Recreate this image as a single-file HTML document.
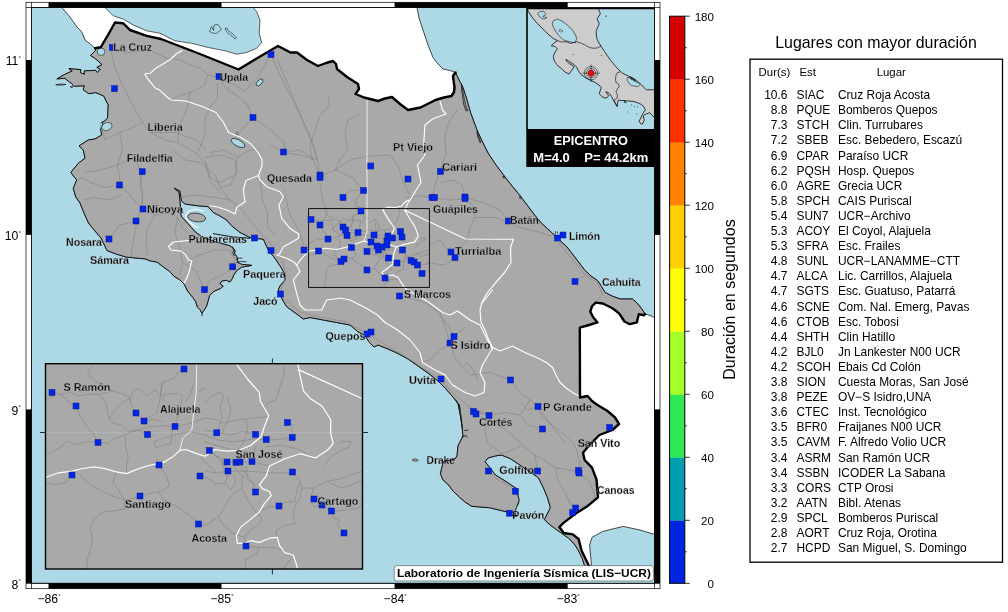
<!DOCTYPE html>
<html lang="es"><head><meta charset="utf-8"><title>Mapa de duración</title>
<style>html,body{margin:0;padding:0;background:#fff}body{width:1008px;height:612px;overflow:hidden}svg{display:block}text{font-family:"Liberation Sans",sans-serif;fill:#000}.b{font-weight:bold}.lab text{font-weight:bold;font-size:11px;stroke:#b3b3b3;stroke-width:0.28px;stroke-linejoin:round}.ax text{font-size:12.2px}.tb text{font-size:11.95px}.hd text{font-size:11.4px}</style></head><body>
<svg width="1008" height="612" viewBox="0 0 1008 612">
<rect width="1008" height="612" fill="#fff"/>
<defs><clipPath id="cm"><rect x="31.5" y="7.5" width="623.0" height="575.8"/></clipPath>
<clipPath id="ci"><rect x="45.5" y="363.7" width="317" height="205.3"/></clipPath>
<clipPath id="ce"><rect x="527" y="7.5" width="127.5" height="122"/></clipPath></defs>
<g clip-path="url(#cm)">
<rect x="31.5" y="7.5" width="623.0" height="575.8" fill="#add8e6"/>
<path d="M61.7 7.5 L69.0 15.8 L73.3 21.7 L77.0 27.0 L81.7 31.7 L85.0 40.0 L91.0 44.5 L95.0 48.3 L95.7 50.3 L90.6 55.4 L95.7 58.9 L102.0 64.6 L96.9 67.4 L100.3 69.2 L97.5 72.6 L95.7 70.3 L84.3 70.9 L84.3 74.3 L80.3 72.6 L80.9 69.7 L68.9 68.6 L72.3 70.9 L64.9 74.3 L56.9 78.9 L64.9 78.3 L68.3 81.2 L71.7 83.5 L74.0 86.3 L84.3 85.7 L83.2 89.7 L88.9 93.7 L95.7 92.6 L103.7 96.0 L106.7 102.0 L108.3 105.0 L107.5 118.3 L104.5 121.0 L101.7 122.5 L103.5 124.0 L101.5 127.0 L100.8 129.5 L101.7 135.0 L95.0 139.0 L88.3 140.0 L79.0 145.8 L83.3 150.0 L85.0 158.3 L78.3 163.3 L70.8 172.5 L76.7 180.0 L73.3 188.3 L75.8 197.0 L80.0 203.0 L84.0 213.0 L88.5 223.0 L95.0 231.0 L101.0 238.0 L107.0 250.5 L116.0 254.0 L126.0 257.0 L136.0 258.0 L146.0 259.0 L150.0 260.9 L156.9 262.0 L163.7 267.2 L169.4 271.2 L174.0 276.3 L179.7 279.7 L184.3 284.3 L187.7 291.2 L192.3 296.9 L195.7 301.5 L197.5 307.2 L200.3 310.0 L202.0 313.5 L203.0 311.5 L204.3 310.0 L206.6 306.0 L208.3 300.3 L209.5 295.7 L214.0 291.2 L220.9 288.3 L223.2 286.0 L219.8 283.7 L222.0 280.9 L226.6 280.3 L230.0 282.0 L232.3 278.6 L234.0 274.6 L236.3 271.2 L241.5 267.2 L251.8 265.4 L241.5 264.3 L238.0 262.6 L236.9 256.9 L234.6 253.4 L235.0 250.0 L230.0 245.8 L215.0 241.7 L201.7 236.7 L195.0 231.7 L188.3 224.0 L181.0 216.0 L180.0 201.7 L179.0 192.5 L174.0 188.0 L180.0 191.0 L181.5 201.0 L185.0 204.0 L198.3 205.8 L208.3 206.7 L213.3 212.5 L220.0 216.0 L226.7 220.0 L231.7 225.8 L240.0 232.5 L246.0 235.5 L250.0 237.5 L257.0 238.5 L263.3 239.2 L266.0 245.0 L268.3 250.0 L275.0 258.3 L281.7 268.3 L285.0 275.0 L285.0 280.0 L280.0 286.0 L278.3 290.0 L281.7 298.3 L286.7 306.7 L296.7 314.0 L303.3 319.0 L310.0 317.5 L323.3 320.0 L336.7 322.5 L350.0 325.0 L358.0 331.7 L365.5 336.0 L369.0 342.0 L374.0 347.0 L378.0 345.0 L388.0 349.0 L398.0 353.5 L408.0 359.0 L418.0 366.0 L428.0 373.0 L438.0 381.0 L446.0 389.0 L453.0 397.0 L458.0 403.5 L460.5 416.0 L462.0 426.0 L463.0 436.0 L458.0 446.0 L457.0 456.0 L455.0 459.0 L443.4 461.6 L440.4 473.5 L443.0 480.0 L447.8 484.0 L453.0 491.0 L459.7 497.3 L465.0 502.0 L471.6 506.2 L480.0 507.0 L489.5 507.7 L499.0 510.0 L507.3 512.0 L513.0 516.0 L516.2 516.6 L514.7 512.2 L519.2 500.3 L516.2 488.4 L507.3 482.4 L495.4 475.0 L485.0 461.6 L488.0 458.0 L495.0 456.0 L501.3 455.0 L510.3 458.6 L519.2 464.6 L532.6 473.5 L538.5 478.0 L543.0 486.9 L547.4 497.3 L550.4 507.7 L544.4 519.6 L549.0 524.0 L554.9 528.5 L562.0 533.5 L569.7 539.0 L575.0 545.0 L578.6 550.8 L582.0 558.0 L584.6 565.7 L588.0 574.0 L592.0 574.0 L591.0 560.0 L589.6 545.0 L592.0 537.4 L602.4 531.5 L623.2 526.4 L640.0 530.0 L654.5 534.4 L654.5 534.4 L654.5 317.5 L650.0 315.5 L645.0 314.0 L642.5 310.0 L638.0 304.0 L632.5 299.0 L620.0 299.0 L612.0 296.0 L605.0 292.5 L600.0 284.0 L597.5 280.5 L591.0 276.0 L585.0 270.5 L577.0 260.0 L572.0 253.5 L567.0 247.0 L562.0 242.5 L556.0 236.8 L549.0 230.0 L541.8 223.6 L535.0 215.5 L527.0 205.0 L520.0 195.5 L512.0 186.0 L505.0 177.0 L496.0 165.0 L488.0 153.0 L483.0 143.0 L478.0 132.5 L474.0 122.0 L470.5 112.5 L467.0 100.0 L463.0 87.5 L459.0 80.0 L455.5 72.5 L450.0 70.5 L443.0 69.0 L438.0 64.0 L433.0 57.5 L428.0 45.0 L423.0 30.0 L419.0 18.0 L417.0 7.5 L417.0 7.5 L61.7 7.5 Z" fill="#fff" stroke="#000" stroke-width="0.7" stroke-linejoin="round"/>
<path d="M105.0 7.5 L113.3 15.8 L123.3 19.2 L133.3 25.0 L146.7 30.8 L160.0 33.3 L175.0 40.8 L191.7 43.3 L208.3 47.5 L225.0 50.8 L236.7 54.2 L246.7 52.5 L256.7 48.3 L261.7 42.5 L259.2 33.3 L260.0 20.0 L256.7 11.7 L253.3 7.5 Z" fill="#add8e6" stroke="#000" stroke-width="0.6" stroke-linejoin="round"/>
<path d="M209.5 31.5 l2 -5 l2 4 l0.5 -5.5 l4 -0.5 l3.5 5 l-5.5 4 l-3.5 -0.5z M225 28.5 l2 -0.5 l1.5 3 l4 2.5 l4 4.5 l-1.5 1 l-4.5 -4 l-3.5 -2.5z" fill="#add8e6" stroke="#000" stroke-width="0.5"/>
<path d="M95.0 48.3 L95.7 50.3 L90.6 55.4 L95.7 58.9 L102.0 64.6 L96.9 67.4 L100.3 69.2 L97.5 72.6 L95.7 70.3 L84.3 70.9 L84.3 74.3 L80.3 72.6 L80.9 69.7 L68.9 68.6 L72.3 70.9 L64.9 74.3 L56.9 78.9 L64.9 78.3 L68.3 81.2 L71.7 83.5 L74.0 86.3 L84.3 85.7 L83.2 89.7 L88.9 93.7 L95.7 92.6 L103.7 96.0 L106.7 102.0 L108.3 105.0 L107.5 118.3 L104.5 121.0 L101.7 122.5 L103.5 124.0 L101.5 127.0 L100.8 129.5 L101.7 135.0 L95.0 139.0 L88.3 140.0 L79.0 145.8 L83.3 150.0 L85.0 158.3 L78.3 163.3 L70.8 172.5 L76.7 180.0 L73.3 188.3 L75.8 197.0 L80.0 203.0 L84.0 213.0 L88.5 223.0 L95.0 231.0 L101.0 238.0 L107.0 250.5 L116.0 254.0 L126.0 257.0 L136.0 258.0 L146.0 259.0 L150.0 260.9 L156.9 262.0 L163.7 267.2 L169.4 271.2 L174.0 276.3 L179.7 279.7 L184.3 284.3 L187.7 291.2 L192.3 296.9 L195.7 301.5 L197.5 307.2 L200.3 310.0 L202.0 313.5 L203.0 311.5 L204.3 310.0 L206.6 306.0 L208.3 300.3 L209.5 295.7 L214.0 291.2 L220.9 288.3 L223.2 286.0 L219.8 283.7 L222.0 280.9 L226.6 280.3 L230.0 282.0 L232.3 278.6 L234.0 274.6 L236.3 271.2 L241.5 267.2 L251.8 265.4 L241.5 264.3 L238.0 262.6 L236.9 256.9 L234.6 253.4 L235.0 250.0 L230.0 245.8 L215.0 241.7 L201.7 236.7 L195.0 231.7 L188.3 224.0 L181.0 216.0 L180.0 201.7 L179.0 192.5 L174.0 188.0 L180.0 191.0 L181.5 201.0 L185.0 204.0 L198.3 205.8 L208.3 206.7 L213.3 212.5 L220.0 216.0 L226.7 220.0 L231.7 225.8 L240.0 232.5 L246.0 235.5 L250.0 237.5 L257.0 238.5 L263.3 239.2 L266.0 245.0 L268.3 250.0 L275.0 258.3 L281.7 268.3 L285.0 275.0 L285.0 280.0 L280.0 286.0 L278.3 290.0 L281.7 298.3 L286.7 306.7 L296.7 314.0 L303.3 319.0 L310.0 317.5 L323.3 320.0 L336.7 322.5 L350.0 325.0 L358.0 331.7 L365.5 336.0 L369.0 342.0 L374.0 347.0 L378.0 345.0 L388.0 349.0 L398.0 353.5 L408.0 359.0 L418.0 366.0 L428.0 373.0 L438.0 381.0 L446.0 389.0 L453.0 397.0 L458.0 403.5 L460.5 416.0 L462.0 426.0 L463.0 436.0 L458.0 446.0 L457.0 456.0 L455.0 459.0 L443.4 461.6 L440.4 473.5 L443.0 480.0 L447.8 484.0 L453.0 491.0 L459.7 497.3 L465.0 502.0 L471.6 506.2 L480.0 507.0 L489.5 507.7 L499.0 510.0 L507.3 512.0 L513.0 516.0 L516.2 516.6 L514.7 512.2 L519.2 500.3 L516.2 488.4 L507.3 482.4 L495.4 475.0 L485.0 461.6 L488.0 458.0 L495.0 456.0 L501.3 455.0 L510.3 458.6 L519.2 464.6 L532.6 473.5 L538.5 478.0 L543.0 486.9 L547.4 497.3 L550.4 507.7 L544.4 519.6 L549.0 524.0 L554.9 528.5 L562.0 533.5 L569.7 539.0 L575.0 545.0 L578.6 550.8 L582.0 558.0 L584.6 565.7 L588.0 574.0 L592.0 574.0 L589.0 566.0 L586.0 559.7 L581.6 550.8 L578.6 539.0 L572.7 534.4 L563.8 533.0 L559.3 527.0 L563.8 522.6 L575.7 513.6 L587.5 506.2 L598.0 497.3 L596.5 479.5 L592.0 467.6 L584.6 460.0 L583.0 452.7 L590.5 443.8 L599.4 435.0 L612.5 430.0 L619.0 424.0 L615.0 417.5 L607.5 411.0 L597.5 405.0 L592.0 401.0 L587.5 396.0 L580.0 397.5 L579.8 327.6 L589.0 325.0 L597.5 322.4 L593.0 317.0 L590.3 311.6 L592.1 306.2 L595.7 302.6 L602.9 303.5 L611.9 308.0 L615.5 310.5 L619.0 313.4 L621.5 317.0 L624.4 321.5 L629.8 324.2 L637.0 322.4 L637.6 319.0 L638.8 314.3 L644.2 315.2 L645.0 314.0 L642.5 310.0 L638.0 304.0 L632.5 299.0 L620.0 299.0 L612.0 296.0 L605.0 292.5 L600.0 284.0 L597.5 280.5 L591.0 276.0 L585.0 270.5 L577.0 260.0 L572.0 253.5 L567.0 247.0 L562.0 242.5 L556.0 236.8 L549.0 230.0 L541.8 223.6 L535.0 215.5 L527.0 205.0 L520.0 195.5 L512.0 186.0 L505.0 177.0 L496.0 165.0 L488.0 153.0 L483.0 143.0 L478.0 132.5 L474.0 122.0 L470.5 112.5 L467.0 100.0 L463.0 87.5 L459.0 80.0 L455.5 72.5 L453.0 76.0 L453.5 80.0 L454.5 87.5 L454.0 92.0 L451.5 96.0 L444.0 97.5 L435.5 100.0 L420.5 107.5 L408.0 110.0 L400.0 104.0 L392.0 97.0 L385.0 98.5 L378.0 101.0 L364.0 97.5 L355.5 94.0 L359.0 89.0 L358.0 84.0 L347.0 77.0 L337.0 69.0 L336.0 64.0 L333.0 61.0 L326.0 63.0 L318.0 66.0 L307.0 60.0 L297.0 52.5 L290.5 52.5 L278.0 46.0 L260.0 56.5 L238.5 69.5 L200.0 54.0 L161.0 39.0 L146.7 35.8 L130.0 30.0 L123.3 23.3 L115.0 22.5 L108.0 35.0 L100.8 47.2 L95.0 48.3 Z" fill="#a9a9a9" stroke="#000" stroke-width="0.85" stroke-linejoin="round"/>
<circle cx="101" cy="51.7" r="3.8" fill="#add8e6" stroke="#000" stroke-width="0.5"/>
<path d="M103.5 124 L107 122.3 L111.5 123.5 L112 126.5 L109.5 129.5 L105.5 131 L102.3 129.2 L101.5 127Z" fill="#add8e6" stroke="#000" stroke-width="0.5" stroke-linejoin="round"/>
<ellipse cx="259.5" cy="82.5" rx="4.2" ry="2.2" transform="rotate(-45 259.5 82.5)" fill="#add8e6" stroke="#000" stroke-width="0.6"/>
<ellipse cx="238" cy="143" rx="7.5" ry="3.2" transform="rotate(28 238 143)" fill="#add8e6" stroke="#000" stroke-width="0.6"/>
<circle cx="237.3" cy="133.5" r="1.2" fill="#add8e6" stroke="#000" stroke-width="0.5"/>
<g fill="none" stroke="#7c7c7c" stroke-width="0.5" stroke-linejoin="round">
<path d="M111.0 50.0 L114.0 65.0 L122.5 85.0 L132.5 105.0 L142.5 122.5 L150.0 132.5 L165.0 140.0 L177.5 142.5 L195.0 152.5 L205.0 162.5 L210.0 180.0 L220.0 193.0"/>
<path d="M142.5 122.5 L131.0 128.0 L120.0 132.5 L105.0 140.0 L100.0 122.5"/>
<path d="M120.0 132.5 L122.5 150.0 L117.5 165.0 L120.0 180.0 L119.5 185.0"/>
<path d="M85.0 172.5 L100.0 170.0 L117.5 165.0 L135.0 157.5 L140.0 170.0 L142.5 193.0 L142.0 209.0"/>
<path d="M111.0 50.0 L130.0 52.5 L150.0 50.0 L165.0 57.5 L180.0 60.0 L190.0 65.0 L200.0 67.5 L207.5 75.0 L218.0 77.5"/>
<path d="M217.5 82.5 L217.5 97.5 L210.0 107.5 L205.0 117.5 L205.0 135.0 L200.0 147.5 L196.0 155.0"/>
<path d="M190.0 92.5 L187.5 107.5 L180.0 125.0 L177.5 142.5"/>
<path d="M207.5 75.0 L205.0 85.0 L195.0 90.0 L190.0 92.5 L180.0 95.0 L171.0 100.0"/>
<path d="M218.0 77.5 L227.5 90.0 L240.0 97.5 L247.5 105.0 L253.0 117.5"/>
<path d="M218.0 77.5 L235.0 85.0 L245.0 91.0 L257.5 77.5 L265.0 65.0 L270.5 54.5"/>
<path d="M270.5 54.5 L285.0 85.0 L300.0 115.0 L312.0 140.0 L317.5 160.0 L320.0 176.0"/>
<path d="M253.0 117.5 L246.0 125.0 L240.0 132.5"/>
<path d="M253.0 117.5 L267.5 127.5 L285.0 142.5 L283.5 152.0 L300.0 150.0 L312.0 157.5 L320.0 176.0"/>
<path d="M210.0 152.5 L225.0 150.0 L237.5 157.5 L235.0 175.0 L220.0 182.5 L210.0 177.5 L206.0 162.5"/>
<path d="M237.5 157.5 L250.0 150.0 L260.0 150.0"/>
<path d="M150.0 132.5 L176.0 132.5 L196.0 140.0 L206.0 150.0"/>
<path d="M142.0 172.5 L140.0 185.0 L142.5 197.5 L142.0 209.0"/>
<path d="M119.5 185.0 L130.0 195.0 L137.5 204.0 L142.0 209.0"/>
<path d="M119.5 185.0 L105.0 187.5 L90.0 182.5 L82.5 177.5 L77.5 180.0"/>
<path d="M142.0 209.0 L137.5 217.5 L135.0 232.5 L132.5 245.0 L131.0 257.5"/>
<path d="M109.0 239.0 L120.0 225.0 L132.5 222.5 L136.0 221.0"/>
<path d="M85.0 200.0 L92.5 197.5 L110.0 200.0 L122.5 195.0"/>
<path d="M142.0 209.0 L155.0 215.0 L170.0 212.5 L177.5 217.5 L182.5 227.5 L187.5 232.5"/>
<path d="M155.0 215.0 L147.5 227.5 L146.0 242.5 L147.5 255.0"/>
<path d="M177.5 217.5 L175.0 232.5 L180.0 250.0 L182.5 262.5 L180.0 275.0"/>
<path d="M190.0 260.0 L200.0 255.0 L215.0 250.0 L230.0 250.0 L235.0 260.0 L232.7 266.8"/>
<path d="M204.5 289.7 L210.0 280.0 L222.5 275.0 L232.5 267.5"/>
<path d="M182.5 262.5 L195.0 270.0 L202.5 285.0"/>
<path d="M180.0 197.5 L195.0 195.0 L215.0 197.5 L230.0 200.0 L240.0 207.5 L250.0 220.0 L260.0 232.5 L267.5 240.0 L275.0 250.0 L283.0 262.0 L286.0 275.0 L281.0 290.0 L284.0 300.0"/>
<path d="M172.5 150.0 L185.0 160.0 L200.0 162.5 L215.0 175.0 L220.0 187.5 L230.0 200.0"/>
<path d="M205.0 157.5 L220.0 155.0 L235.0 160.0 L237.5 172.5 L230.0 185.0 L220.0 187.5"/>
<path d="M260.0 180.0 L262.5 200.0 L267.5 212.5 L267.5 227.5 L275.0 235.0"/>
<path d="M285.0 195.0 L290.0 215.0 L300.0 232.5 L305.0 250.0"/>
<path d="M277.5 60.0 L290.0 90.0 L302.5 120.0 L312.5 145.0 L317.5 160.0"/>
<path d="M327.5 95.0 L330.0 105.0 L320.0 115.0 L315.0 130.0 L310.0 145.0 L312.5 160.0"/>
<path d="M360.0 114.0 L347.5 120.0 L345.0 135.0 L347.5 150.0 L340.0 160.0 L335.0 170.0 L320.0 176.0"/>
<path d="M270.0 145.0 L284.0 152.5 L300.0 155.0 L317.5 160.0"/>
<path d="M335.0 170.0 L352.5 159.0 L370.0 156.0 L390.0 155.0 L397.5 165.0 L402.5 180.0 L410.0 195.0"/>
<path d="M320.0 176.0 L320.0 185.0 L322.5 200.0 L327.5 213.0 L320.0 225.0"/>
<path d="M335.0 170.0 L352.5 177.5 L362.5 190.0 L355.0 202.5 L360.0 213.0"/>
<path d="M457.5 110.0 L450.0 120.0 L445.0 135.0 L446.0 155.0 L440.0 170.0 L435.0 185.0 L432.5 197.5"/>
<path d="M440.0 182.5 L452.5 180.0 L462.5 185.0 L465.0 197.5"/>
<path d="M405.0 197.5 L420.0 196.0 L432.5 197.5 L450.0 200.0 L465.0 199.0 L472.5 205.0 L475.0 217.5 L495.0 217.5 L507.5 222.5 L520.0 227.5 L540.0 232.5 L555.0 237.5"/>
<path d="M465.0 197.5 L482.5 202.5 L500.0 210.0 L508.0 221.0"/>
<path d="M343.0 197.5 L350.0 190.0 L363.5 190.5"/>
<path d="M555.0 237.5 L562.5 247.5 L575.0 262.5 L585.0 275.0 L597.5 282.5 L602.5 295.0 L595.0 302.5"/>
<path d="M585.0 275.0 L575.0 281.0"/>
<path d="M430.0 245.0 L440.0 240.0 L450.0 252.5 L455.0 257.5 L445.0 265.0 L425.0 262.5"/>
<path d="M475.0 217.5 L470.0 227.5 L467.5 240.0 L457.5 250.0"/>
<path d="M425.0 300.0 L437.5 312.5 L447.5 325.0 L454.0 336.0"/>
<path d="M454.0 336.0 L465.0 327.5"/>
<path d="M286.0 300.0 L300.0 312.0 L320.0 317.0 L345.0 321.5 L370.0 335.0 L390.0 347.5 L415.0 362.5 L440.0 380.0 L455.0 395.0 L470.0 407.5 L490.0 415.0"/>
<path d="M450.0 342.5 L440.0 350.0 L430.0 360.0 L420.0 362.5"/>
<path d="M450.0 342.5 L445.0 327.5 L440.0 312.5 L425.0 302.5 L400.0 296.0"/>
<path d="M450.0 342.5 L455.0 357.5 L462.5 367.5 L470.0 375.0 L490.0 372.5 L510.0 380.0 L520.0 392.5 L530.0 400.0 L537.5 406.0 L547.5 420.0 L555.0 430.0 L565.0 443.0"/>
<path d="M462.5 367.5 L467.5 362.5 L472.0 368.0 L478.0 380.0"/>
<path d="M476.0 412.5 L490.0 415.0 L505.0 412.5 L520.0 415.0 L530.0 400.0"/>
<path d="M490.0 415.0 L485.0 430.0 L487.5 443.0 L497.5 450.0 L502.5 454.0"/>
<path d="M520.0 415.0 L527.5 425.0 L542.5 429.0"/>
<path d="M538.0 406.5 L527.5 410.0 L520.0 402.5"/>
<path d="M537.5 407.5 L542.5 417.5 L555.0 427.5 L567.5 437.5 L575.0 445.0 L580.0 462.5 L579.0 472.5"/>
<path d="M487.5 417.5 L502.5 427.5 L515.0 437.5 L525.0 447.5 L535.0 455.0 L545.0 461.0 L555.0 467.5 L570.0 470.0 L579.0 472.0"/>
<path d="M555.0 467.5 L557.5 480.0 L565.0 492.5 L572.5 507.5"/>
<path d="M579.0 472.0 L590.0 482.5 L595.0 495.0 L592.5 502.5 L580.0 507.5"/>
<path d="M535.0 455.0 L537.5 470.0"/>
<path d="M489.0 471.0 L497.5 480.0 L510.0 486.0 L515.0 491.0 L520.0 502.5 L515.0 510.0 L510.0 514.0"/>
<path d="M522.5 445.0 L512.5 450.0 L500.0 454.0"/>
<path d="M310.0 219.7 L313.6 220.3 L316.2 221.7 L317.5 223.6 L320.4 224.8 L321.4 228.2 L324.0 232.1 L327.2 236.0 L328.5 238.6"/>
<path d="M308.6 222.6 L312.3 220.7"/>
<path d="M313.6 220.3 L318.1 219.7 L320.7 221.0 L325.3 220.3 L329.1 220.3 L334.3 219.0 L337.5 220.0 L340.8 221.7 L342.1 219.3 L344.0 218.0 L347.2 221.0 L350.5 218.7 L352.4 221.0 L353.1 215.8 L357.6 214.1 L359.6 211.5 L361.4 210.6"/>
<path d="M326.5 208.6 L324.6 212.5 L327.2 215.1 L329.8 216.4 L334.3 219.0"/>
<path d="M329.1 220.3 L331.7 223.6 L332.7 229.4 L334.3 231.4 L337.5 232.1 L340.1 234.7 L344.0 234.1 L347.2 235.9"/>
<path d="M340.8 221.7 L336.2 224.9 L333.0 229.4"/>
<path d="M340.8 221.7 L341.4 224.9 L343.1 227.5 L346.1 230.6 L349.8 230.1 L353.1 230.7"/>
<path d="M308.6 243.5 L312.3 241.8 L315.5 239.9 L316.8 238.3 L320.1 239.6 L324.6 238.6 L328.5 238.6 L332.3 239.2 L334.3 237.6 L338.8 236.0 L342.1 234.7 L347.2 233.1 L352.4 232.4 L358.3 232.7 L364.0 231.4 L369.4 229.4 L373.9 230.1 L375.9 231.4 L382.3 230.1 L388.2 229.4 L393.3 228.8"/>
<path d="M338.8 236.0 L339.2 240.5 L340.1 244.5 L339.5 247.9 L339.5 250.5"/>
<path d="M349.8 238.6 L355.0 236.6 L360.2 235.3 L364.0 234.7"/>
<path d="M349.8 238.6 L350.5 240.9 L356.3 239.2 L357.0 234.1"/>
<path d="M353.1 222.9 L353.7 220.3 L358.9 220.0 L360.8 221.0 L359.6 226.9 L358.3 231.4"/>
<path d="M353.1 215.8 L352.4 221.0 L351.1 227.5 L347.2 229.4"/>
<path d="M362.1 222.9 L364.0 219.7 L365.4 215.8"/>
<path d="M366.7 219.7 L369.4 217.7"/>
<path d="M399.1 209.3 L399.8 211.9 L397.9 217.7 L396.6 222.3 L392.7 224.3 L391.7 225.6"/>
<path d="M369.4 223.6 L372.0 221.0 L375.2 219.3 L376.5 221.0 L375.2 224.9 L375.9 229.4 L373.9 235.0"/>
<path d="M377.8 221.7 L379.1 224.9 L379.1 227.5 L377.2 232.1 L375.9 235.3"/>
<path d="M384.9 230.1 L385.6 234.1 L384.3 238.6 L382.3 241.2"/>
<path d="M369.4 234.1 L373.9 235.0 L379.1 236.0 L383.6 234.7 L388.8 235.7"/>
<path d="M364.0 234.7 L369.4 236.0 L374.6 237.9 L379.8 238.6 L385.6 237.9 L388.8 237.3 L392.7 237.9 L397.9 237.6 L402.7 237.0 L402.4 234.1 L403.0 232.1 L400.8 231.2"/>
<path d="M369.4 238.6 L375.9 240.5 L380.4 241.8"/>
<path d="M392.7 240.5 L398.5 239.9 L404.3 241.2 L408.2 243.1"/>
<path d="M414.7 247.9 L417.3 244.5 L421.2 241.8 L424.4 240.5 L425.1 238.6 L422.5 238.3 L419.9 239.2"/>
<path d="M308.6 254.4 L312.3 255.0 L316.8 254.1 L317.8 251.8"/>
<path d="M321.4 250.8 L324.6 254.4 L330.4 257.7 L335.6 259.9 L338.8 260.9"/>
<path d="M335.6 250.1 L334.3 254.4 L336.9 257.7 L338.8 260.9 L338.8 264.2 L334.3 265.1 L330.4 265.5 L327.2 268.1 L325.6 272.0 L326.5 275.9 L325.6 280.5 L324.3 284.4 L324.6 287.4"/>
<path d="M338.8 260.9 L343.4 259.9 L348.5 258.3 L352.4 257.7 L355.7 255.7 L355.0 252.4 L353.1 249.2 L351.9 247.5"/>
<path d="M351.8 258.0 L353.7 260.9 L358.9 263.5 L363.4 266.8 L367.0 270.0"/>
<path d="M378.3 249.9 L385.6 249.8 L394.0 250.5 L402.7 250.5 L405.6 253.7 L406.3 256.4 L410.8 256.4 L416.0 253.7 L421.2 252.7 L425.1 251.1 L429.4 249.8"/>
<path d="M405.6 253.7 L404.3 257.7 L403.7 261.6 L400.4 261.6 L397.7 263.4 L394.0 263.5 L390.8 265.1"/>
<path d="M406.3 256.4 L405.6 260.3 L403.7 262.9 L403.0 266.8 L403.7 270.0 L399.8 270.7 L396.6 272.6 L396.6 275.2"/>
<path d="M410.8 256.4 L409.5 260.9 L411.0 263.5 L414.0 263.0 L417.6 265.3 L418.6 268.1 L420.5 268.8 L419.9 270.7 L421.8 272.6 L422.5 273.6"/>
<path d="M417.6 265.3 L423.1 264.8 L427.7 264.2 L429.4 261.6"/>
<path d="M416.0 253.7 L421.2 256.4 L425.7 255.0 L429.4 253.1"/>
<path d="M378.3 249.9 L377.2 254.4 L379.1 257.0 L381.0 254.4 L380.4 251.1"/>
<path d="M383.6 251.8 L383.3 256.4 L385.6 260.9 L388.2 264.8 L390.8 267.4 L390.8 269.4 L386.9 272.6 L384.3 275.2 L385.2 278.7"/>
<path d="M383.3 256.4 L379.1 259.6 L376.5 264.2 L374.6 267.4 L376.5 270.7 L380.4 273.9 L384.3 275.2"/>
<path d="M367.0 270.1 L369.4 270.7 L374.6 267.4"/>
<path d="M385.2 278.7 L390.1 279.2 L388.8 281.8 L384.9 283.7 L384.6 287.4"/>
<path d="M390.1 279.2 L395.3 279.2 L399.8 280.5 L402.4 283.1 L400.4 285.7 L399.5 287.4"/>
<path d="M369.4 249.8 L373.3 250.5 L378.3 249.9"/>
<path d="M380.4 247.9 L382.3 250.5 L387.5 254.4 L388.7 258.0"/>
<path d="M384.9 247.9 L385.6 251.8 L388.8 255.7"/>
<path d="M371.0 241.9 L373.6 244.0 L375.9 246.3 L378.3 249.9"/>
<path d="M373.6 244.0 L377.8 246.3 L381.2 246.5 L382.7 246.3 L387.3 246.1 L391.1 247.1 L394.0 247.9"/>
<path d="M375.9 246.3 L376.6 249.4 L378.2 252.5"/>
<path d="M381.2 246.5 L382.0 243.6 L382.3 241.2"/>
<path d="M387.3 246.1 L388.1 242.9 L388.8 240.2"/>
<path d="M382.7 246.3 L383.9 249.4 L385.6 251.8"/>
<path d="M369.4 240.6 L372.1 242.5 L373.6 244.0"/>
<path d="M367.5 244.8 L369.4 246.3 L372.1 248.6 L373.3 250.5"/>
<path d="M367.5 251.7 L370.5 252.5 L373.2 254.8 L377.2 254.4"/>
</g>
<g fill="none" stroke="#fff" stroke-width="1.15" stroke-linejoin="round" stroke-linecap="round">
<path d="M182.0 50.5 L176.0 54.0 L171.0 59.0 L163.0 64.0 L160.0 65.7 L155.2 68.6 L150.6 73.2 L145.0 73.7 L146.0 76.6 L150.6 82.3 L155.2 88.0 L160.0 90.3 L166.0 96.0 L171.0 100.0 L186.0 101.0 L201.0 106.0 L216.0 112.5 L223.5 122.5 L228.5 132.5 L241.0 137.5 L251.0 144.0 L258.5 153.0 L262.0 160.0 L262.0 165.5 L258.5 175.5 L246.0 180.5 L243.3 190.0 L245.0 201.7 L236.7 207.5 L235.0 214.0 L226.7 210.0 L216.7 206.7 L210.0 205.8"/>
<path d="M258.5 175.5 L260.0 180.0 L266.7 186.7 L280.0 191.7 L283.3 196.7 L279.0 205.0 L281.7 218.3 L290.0 228.3 L295.0 231.7 L299.0 234.0 L298.3 238.3 L290.0 243.3 L283.3 246.7 L280.0 253.3 L276.7 255.0 L286.7 258.3 L293.3 261.7 L296.7 265.0 L300.0 271.7 L293.3 280.0 L296.7 293.3 L300.0 305.0 L305.0 310.0 L321.7 310.0 L326.7 300.0 L340.0 298.3"/>
<path d="M296.7 265.0 L301.7 258.3 L308.7 251.2 L316.7 250.0 L324.9 248.3 L336.8 249.5 L347.0 247.0 L358.9 242.7 L364.0 241.0 L369.0 242.7 L375.8 244.4 L383.0 246.0 L391.0 245.3 L396.2 247.0 L404.7 244.4 L414.9 241.9 L418.3 235.9 L414.9 226.6 L410.0 219.0 L406.4 213.0 L404.7 210.4"/>
<path d="M404.7 210.4 L408.0 203.0 L410.0 200.0 L421.0 182.5 L417.5 165.0 L425.0 155.0 L423.8 142.5 L425.0 125.0 L432.5 119.0 L446.0 114.0 L442.5 110.0 L440.0 101.0"/>
<path d="M410.0 200.0 L406.4 201.0 L401.3 206.2 L395.0 207.5 L388.0 207.0 L382.6 209.6 L387.7 218.1 L394.5 228.3 L391.1 235.1 L388.0 241.0 L391.0 245.3"/>
<path d="M405.5 210.5 L465.5 239.0 L513.5 239.3 L510.5 247.5 L511.0 262.5 L505.0 272.0 L498.0 280.0 L487.5 292.5 L482.0 302.0 L480.0 310.0 L481.0 322.0 L485.0 330.0 L488.0 338.0 L492.5 347.5 L500.0 351.0 L512.5 346.0 L520.0 350.0 L525.0 352.5 L540.0 359.0 L547.0 363.0 L552.5 367.5 L556.0 375.0 L560.0 382.5 L566.0 388.0 L572.5 392.5 L580.0 396.5"/>
<path d="M492.5 349.0 L490.0 352.5 L482.5 365.0 L480.0 372.5 L485.0 382.5 L484.0 392.5 L475.0 396.0 L465.0 392.5 L452.5 385.0 L445.0 375.0 L435.0 370.0 L422.5 362.5 L420.0 352.5 L410.0 340.0 L397.5 330.0 L385.0 322.5 L377.5 315.0 L365.0 307.5 L350.0 300.0 L340.0 298.0"/>
<path d="M396.2 247.0 L393.7 253.8 L392.8 264.0 L387.7 268.2 L381.8 272.4 L384.3 275.8 L392.8 275.0 L397.9 277.5 L401.3 282.6 L404.7 287.7 L407.5 290.0 L416.0 295.0 L425.0 300.0 L432.5 305.0 L442.5 312.5 L450.0 315.0 L457.5 311.0 L470.0 320.0 L480.0 325.0 L485.0 335.0 L490.0 345.0 L492.5 349.0"/>
<path d="M492.5 290.0 L482.5 302.5"/>
<path d="M188.5 240.5 L173.5 242.0 L168.5 246.5 L171.2 250.0 L180.9 251.1 L185.4 254.6 L188.3 259.7 L191.7 260.9 L188.9 272.9 L186.6 278.6 L184.3 282.6"/>
<path d="M203.0 211.0 L196.0 209.3 L188.5 211.0 L185.5 216.0 L188.0 221.0 L193.0 225.0 L198.0 228.0"/>
<path d="M367 97.5V232L364 241" stroke-width="0.8"/>
</g>
<ellipse cx="196.7" cy="217.5" rx="9" ry="4.3" transform="rotate(8 196.7 217.5)" fill="#a9a9a9" stroke="#000" stroke-width="0.6"/>
<path d="M213 233.6 L232 236.8 L250 238.3" fill="none" stroke="#000" stroke-width="0.9"/>
<path d="M412.3 459.3 l2.5 -0.5 l3 1 l0.2 1.2 l-3 0.3 l-2.5 -0.8z" fill="#a9a9a9" stroke="#000" stroke-width="0.5"/>
<path d="M461.5 84 L463 92 L464.5 100 L466.5 108 L468 110.5 L466 111 L463.5 104 L462.5 96 L461.5 90Z M477 131 L479 137 L481 142.5 L479.8 142.5 L477.5 136Z M503 176 l1.5 2 l-0.6 0.4z M519.5 196.5 l1.3 2 l-0.6 0.3z" fill="#8c8c8c" stroke="#000" stroke-width="0.6" stroke-linejoin="round"/>
<path d="M455.5 399.5 L459.5 406 L460.8 414 L461.8 423 L462.6 428.5 M459 404 L460 410 M464 430.5 L468.5 430 M462 437 L466 435.5 L467.5 437.5" fill="none" stroke="#000" stroke-width="0.7"/>
<path d="M232.5 246.5 l1.2 3 l-0.8 3.5 l1.5 3 M236 259.5 l3 -1.5 l3.5 0.2 M236.5 262.5 l4 -1 l6 0.3" fill="none" stroke="#000" stroke-width="0.7"/>
<path d="M202.1 314.3v1.8" stroke="#000" stroke-width="0.9" fill="none"/>
<path d="M55.7 84.8 L60 84 L66 84.4 L60.5 85.3Z M70 86.6 l3 0.2 l-1.5 0.8z" fill="#a9a9a9" stroke="#000" stroke-width="0.6"/>
<path d="M555.3 231v3.2M557.5 231.5v2" stroke="#000" stroke-width="0.7" fill="none"/>
<g fill="none" stroke="#000" stroke-width="2.4" stroke-linejoin="round" stroke-linecap="round">
<path d="M95.0 48.3 L100.8 47.2 L108.0 35.0 L115.0 22.5 L123.3 23.3 L130.0 30.0 L146.7 35.8 L161.0 39.0 L200.0 54.0 L238.5 69.5 L260.0 56.5 L278.0 46.0 L290.5 52.5 L297.0 52.5 L307.0 60.0 L318.0 66.0 L326.0 63.0 L333.0 61.0 L336.0 64.0 L337.0 69.0 L347.0 77.0 L358.0 84.0 L359.0 89.0 L355.5 94.0 L364.0 97.5 L378.0 101.0 L385.0 98.5 L392.0 97.0 L400.0 104.0 L408.0 110.0 L420.5 107.5 L435.5 100.0 L444.0 97.5 L451.5 96.0 L454.0 92.0 L454.5 87.5 L453.5 80.0 L453.0 76.0 L455.5 72.5"/>
<path d="M645.0 314.0 L644.2 315.2 L638.8 314.3 L637.6 319.0 L637.0 322.4 L629.8 324.2 L624.4 321.5 L621.5 317.0 L619.0 313.4 L615.5 310.5 L611.9 308.0 L602.9 303.5 L595.7 302.6 L592.1 306.2 L590.3 311.6 L593.0 317.0 L597.5 322.4 L589.0 325.0 L579.8 327.6 L580.0 397.5 L587.5 396.0 L592.0 401.0 L597.5 405.0 L607.5 411.0 L615.0 417.5 L619.0 424.0 L612.5 430.0 L599.4 435.0 L590.5 443.8 L583.0 452.7 L584.6 460.0 L592.0 467.6 L596.5 479.5 L598.0 497.3 L587.5 506.2 L575.7 513.6 L563.8 522.6 L559.3 527.0 L563.8 533.0 L572.7 534.4 L578.6 539.0 L581.6 550.8 L586.0 559.7 L589.0 566.0 L592.0 574.0"/>
</g>
<rect x="308.6" y="208.6" width="120.8" height="78.8" fill="none" stroke="#000" stroke-width="0.9"/>
<g fill="#0026e4" stroke="#0a1c9a" stroke-width="0.5">
<rect x="109.3" y="44.4" width="3.6" height="6.1"/>
<rect x="111.5" y="85.7" width="6.0" height="6.0"/>
<rect x="216.0" y="73.5" width="6.0" height="6.0"/>
<rect x="268.0" y="51.5" width="6.0" height="6.0"/>
<rect x="250.0" y="114.5" width="6.0" height="6.0"/>
<rect x="280.5" y="149.0" width="6.0" height="6.0"/>
<rect x="139.2" y="168.7" width="6.0" height="6.0"/>
<rect x="116.5" y="182.0" width="6.0" height="6.0"/>
<rect x="140.0" y="206.0" width="6.0" height="6.0"/>
<rect x="133.0" y="218.0" width="6.0" height="6.0"/>
<rect x="106.0" y="236.0" width="6.0" height="6.0"/>
<rect x="251.5" y="235.0" width="6.0" height="6.0"/>
<rect x="268.0" y="247.5" width="6.0" height="6.0"/>
<rect x="229.7" y="263.8" width="6.0" height="6.0"/>
<rect x="201.5" y="286.7" width="6.0" height="6.0"/>
<rect x="367.8" y="163.0" width="6.0" height="6.0"/>
<rect x="317.0" y="172.0" width="6.0" height="6.0"/>
<rect x="317.0" y="174.5" width="6.0" height="6.0"/>
<rect x="405.0" y="176.0" width="6.0" height="6.0"/>
<rect x="437.5" y="168.5" width="6.0" height="6.0"/>
<rect x="360.5" y="187.5" width="6.0" height="6.0"/>
<rect x="340.0" y="194.5" width="6.0" height="6.0"/>
<rect x="429.0" y="194.5" width="6.0" height="6.0"/>
<rect x="431.5" y="194.5" width="6.0" height="6.0"/>
<rect x="462.0" y="194.0" width="6.0" height="6.0"/>
<rect x="462.0" y="195.5" width="6.0" height="6.0"/>
<rect x="358.0" y="208.0" width="6.0" height="6.0"/>
<rect x="308.0" y="216.5" width="6.0" height="6.0"/>
<rect x="317.0" y="222.0" width="6.0" height="6.0"/>
<rect x="340.0" y="224.0" width="6.0" height="6.0"/>
<rect x="342.5" y="227.0" width="6.0" height="6.0"/>
<rect x="344.0" y="232.5" width="6.0" height="6.0"/>
<rect x="355.0" y="229.5" width="6.0" height="6.0"/>
<rect x="325.0" y="236.0" width="6.0" height="6.0"/>
<rect x="371.0" y="232.0" width="6.0" height="6.0"/>
<rect x="385.0" y="233.0" width="6.0" height="6.0"/>
<rect x="389.5" y="235.0" width="6.0" height="6.0"/>
<rect x="397.5" y="228.5" width="6.0" height="6.0"/>
<rect x="399.0" y="234.0" width="6.0" height="6.0"/>
<rect x="368.0" y="239.0" width="6.0" height="6.0"/>
<rect x="374.0" y="243.0" width="6.0" height="6.0"/>
<rect x="379.0" y="244.0" width="6.0" height="6.0"/>
<rect x="384.0" y="242.0" width="6.0" height="6.0"/>
<rect x="375.5" y="247.0" width="6.0" height="6.0"/>
<rect x="384.0" y="238.0" width="6.0" height="6.0"/>
<rect x="348.5" y="244.5" width="6.0" height="6.0"/>
<rect x="301.0" y="247.0" width="6.0" height="6.0"/>
<rect x="315.5" y="248.0" width="6.0" height="6.0"/>
<rect x="364.0" y="248.5" width="6.0" height="6.0"/>
<rect x="399.5" y="247.0" width="6.0" height="6.0"/>
<rect x="385.5" y="255.0" width="6.0" height="6.0"/>
<rect x="341.0" y="256.0" width="6.0" height="6.0"/>
<rect x="338.0" y="258.5" width="6.0" height="6.0"/>
<rect x="394.0" y="260.0" width="6.0" height="6.0"/>
<rect x="408.0" y="257.5" width="6.0" height="6.0"/>
<rect x="411.0" y="259.0" width="6.0" height="6.0"/>
<rect x="414.5" y="262.0" width="6.0" height="6.0"/>
<rect x="364.0" y="267.0" width="6.0" height="6.0"/>
<rect x="419.0" y="270.5" width="6.0" height="6.0"/>
<rect x="382.0" y="275.0" width="6.0" height="6.0"/>
<rect x="396.5" y="293.0" width="6.0" height="6.0"/>
<rect x="448.0" y="249.0" width="6.0" height="6.0"/>
<rect x="452.0" y="254.5" width="6.0" height="6.0"/>
<rect x="505.3" y="218.0" width="6.0" height="6.0"/>
<rect x="560.0" y="232.0" width="6.0" height="6.0"/>
<rect x="554.5" y="235.0" width="6.0" height="6.0"/>
<rect x="572.0" y="278.5" width="6.0" height="6.0"/>
<rect x="277.5" y="291.0" width="6.0" height="6.0"/>
<rect x="368.0" y="329.0" width="6.0" height="6.0"/>
<rect x="364.0" y="331.0" width="6.0" height="6.0"/>
<rect x="451.0" y="333.5" width="6.0" height="6.0"/>
<rect x="447.0" y="340.0" width="6.0" height="6.0"/>
<rect x="438.0" y="376.0" width="6.0" height="6.0"/>
<rect x="507.5" y="377.0" width="6.0" height="6.0"/>
<rect x="470.5" y="408.5" width="6.0" height="6.0"/>
<rect x="473.0" y="411.0" width="6.0" height="6.0"/>
<rect x="486.0" y="412.5" width="6.0" height="6.0"/>
<rect x="535.0" y="403.5" width="6.0" height="6.0"/>
<rect x="539.5" y="426.0" width="6.0" height="6.0"/>
<rect x="606.7" y="424.5" width="6.0" height="6.0"/>
<rect x="485.4" y="468.0" width="6.0" height="6.0"/>
<rect x="534.6" y="468.0" width="6.0" height="6.0"/>
<rect x="575.5" y="467.5" width="6.0" height="6.0"/>
<rect x="576.0" y="470.0" width="6.0" height="6.0"/>
<rect x="512.4" y="488.2" width="6.0" height="6.0"/>
<rect x="506.5" y="510.2" width="6.0" height="6.0"/>
<rect x="572.7" y="505.0" width="6.0" height="6.0"/>
<rect x="569.7" y="509.7" width="6.0" height="6.0"/>
</g>
<g class="lab">
<text x="113.3" y="50.8" textLength="38.7" lengthAdjust="spacingAndGlyphs">La Cruz</text>
<text x="219.5" y="80.5" textLength="28.5" lengthAdjust="spacingAndGlyphs">Upala</text>
<text x="147.5" y="130.5" textLength="35.3" lengthAdjust="spacingAndGlyphs">Liberia</text>
<text x="126.7" y="161.7" textLength="46.1" lengthAdjust="spacingAndGlyphs">Filadelfia</text>
<text x="267.0" y="182.0" textLength="45.0" lengthAdjust="spacingAndGlyphs">Quesada</text>
<text x="393.0" y="151.0" textLength="40.0" lengthAdjust="spacingAndGlyphs">Pt Viejo</text>
<text x="442.0" y="171.0" textLength="35.0" lengthAdjust="spacingAndGlyphs">Cariari</text>
<text x="433.0" y="213.0" textLength="45.0" lengthAdjust="spacingAndGlyphs">Guápiles</text>
<text x="147.0" y="213.0" textLength="36.0" lengthAdjust="spacingAndGlyphs">Nicoya</text>
<text x="66.0" y="245.5" textLength="36.0" lengthAdjust="spacingAndGlyphs">Nosara</text>
<text x="90.0" y="264.0" textLength="39.0" lengthAdjust="spacingAndGlyphs">Sámara</text>
<text x="188.5" y="242.5" textLength="58.5" lengthAdjust="spacingAndGlyphs">Puntarenas</text>
<text x="243.0" y="277.5" textLength="42.8" lengthAdjust="spacingAndGlyphs">Paquera</text>
<text x="253.3" y="305.0" textLength="24.2" lengthAdjust="spacingAndGlyphs">Jacó</text>
<text x="510.0" y="223.5" textLength="29.0" lengthAdjust="spacingAndGlyphs">Batán</text>
<text x="569.0" y="239.6" textLength="31.0" lengthAdjust="spacingAndGlyphs">Limón</text>
<text x="455.0" y="255.0" textLength="46.5" lengthAdjust="spacingAndGlyphs">Turrialba</text>
<text x="404.0" y="298.0" textLength="47.0" lengthAdjust="spacingAndGlyphs">S Marcos</text>
<text x="602.0" y="285.5" textLength="38.5" lengthAdjust="spacingAndGlyphs">Cahuita</text>
<text x="325.5" y="340.0" textLength="40.0" lengthAdjust="spacingAndGlyphs">Quepos</text>
<text x="450.5" y="348.5" textLength="40.0" lengthAdjust="spacingAndGlyphs">S Isidro</text>
<text x="409.0" y="383.5" textLength="27.0" lengthAdjust="spacingAndGlyphs">Uvita</text>
<text x="479.0" y="425.5" textLength="33.5" lengthAdjust="spacingAndGlyphs">Cortés</text>
<text x="543.0" y="411.0" textLength="49.0" lengthAdjust="spacingAndGlyphs">P Grande</text>
<text x="577.7" y="446.8" textLength="42.5" lengthAdjust="spacingAndGlyphs">San Vito</text>
<text x="426.5" y="463.6" textLength="28.5" lengthAdjust="spacingAndGlyphs">Drake</text>
<text x="499.3" y="474.0" textLength="34.7" lengthAdjust="spacingAndGlyphs">Golfito</text>
<text x="597.0" y="493.7" textLength="37.5" lengthAdjust="spacingAndGlyphs">Canoas</text>
<text x="512.3" y="518.7" textLength="32.1" lengthAdjust="spacingAndGlyphs">Pavón</text>
</g>
</g>
<g>
<path d="M272.4 358.5V364M272.4 569V574.5M40 432.5H45.5M362.5 432.5H368" stroke="#000" stroke-width="0.8" fill="none"/>
<rect x="45.5" y="363.7" width="317" height="205.3" fill="#a9a9a9"/>
<g clip-path="url(#ci)">
<path d="M45.5 432.5H362.5" stroke="#b4bcc0" stroke-width="0.6" fill="none"/>
<g fill="none" stroke="#7c7c7c" stroke-width="0.5" stroke-linejoin="round">
<path d="M49.2 392.6 L58.6 394.3 L65.4 397.7 L68.8 402.8 L76.4 405.8 L79.0 414.7 L85.8 424.8 L94.3 435.0 L97.7 441.8"/>
<path d="M45.5 400.2 L55.2 395.1"/>
<path d="M58.6 394.3 L70.5 392.6 L77.3 396.0 L89.2 394.3 L99.4 394.3 L112.9 390.9 L121.4 393.4 L129.9 397.7 L133.3 391.7 L138.4 388.3 L146.9 396.0 L155.4 390.0 L160.5 396.0 L162.2 382.4 L174.1 378.1 L179.2 371.3 L184.0 369.0"/>
<path d="M92.6 363.7 L87.5 373.9 L94.3 380.7 L101.0 384.0 L112.9 390.9"/>
<path d="M99.4 394.3 L106.1 402.8 L108.7 418.0 L112.9 423.1 L121.4 424.8 L128.2 431.6 L138.4 430.0 L146.9 434.7"/>
<path d="M129.9 397.7 L118.0 406.2 L109.5 418.0"/>
<path d="M129.9 397.7 L131.6 406.2 L136.0 413.0 L144.0 421.0 L153.7 419.7 L162.2 421.4"/>
<path d="M45.5 454.6 L55.2 450.3 L63.7 445.2 L67.0 441.0 L75.6 444.4 L87.5 441.8 L97.7 441.8 L107.8 443.5 L112.9 439.3 L124.8 435.0 L133.3 431.6 L146.9 427.4 L160.5 425.7 L175.8 426.5 L191.0 423.1 L205.0 418.0 L216.8 419.7 L222.0 423.1 L239.0 419.7 L254.3 418.0 L267.8 416.4"/>
<path d="M124.8 435.0 L125.7 446.9 L128.2 457.1 L126.5 466.0 L126.5 472.8"/>
<path d="M153.7 441.8 L167.3 436.7 L180.9 433.3 L191.0 431.6"/>
<path d="M153.7 441.8 L155.4 447.8 L170.7 443.5 L172.4 430.0"/>
<path d="M162.2 401.0 L163.9 394.3 L177.5 393.4 L182.6 396.0 L179.2 411.3 L175.8 423.1"/>
<path d="M162.2 382.4 L160.5 396.0 L157.1 413.0 L146.9 418.0"/>
<path d="M186.0 401.0 L191.0 392.6 L194.5 382.4"/>
<path d="M197.9 392.6 L205.0 387.5"/>
<path d="M283.1 365.4 L284.8 372.2 L279.7 387.5 L276.3 399.4 L266.1 404.5 L263.6 407.9"/>
<path d="M205.0 402.8 L211.8 396.0 L220.3 391.7 L223.7 396.0 L220.3 406.2 L222.0 418.0 L216.9 432.5"/>
<path d="M227.1 397.7 L230.5 406.2 L230.5 413.0 L225.4 424.8 L222.0 433.3"/>
<path d="M245.8 419.7 L247.5 430.0 L244.1 441.8 L239.0 448.6"/>
<path d="M205.0 430.0 L216.9 432.5 L230.5 435.0 L242.4 431.6 L256.0 434.2"/>
<path d="M191.0 431.6 L205.0 435.0 L218.6 440.1 L232.2 441.8 L247.5 440.1 L256.0 438.4 L266.1 440.1 L279.7 439.3 L292.5 437.6 L291.6 430.0 L293.3 424.8 L287.5 422.5"/>
<path d="M205.0 441.8 L222.0 446.9 L233.9 450.3"/>
<path d="M266.1 446.9 L281.4 445.2 L296.7 448.6 L306.9 453.7"/>
<path d="M323.9 466.0 L330.7 457.1 L340.9 450.3 L349.4 446.9 L351.1 441.8 L344.3 441.0 L337.5 443.5"/>
<path d="M45.5 483.0 L55.2 484.7 L67.1 482.1 L69.6 476.2"/>
<path d="M79.0 473.6 L87.5 483.0 L102.7 491.5 L116.3 497.4 L124.8 500.0"/>
<path d="M116.3 471.9 L112.9 483.0 L119.7 491.5 L124.8 500.0 L124.8 508.5 L112.9 511.0 L102.7 511.9 L94.3 518.7 L90.0 528.8 L92.6 539.0 L90.0 550.9 L86.6 561.1 L87.5 569.0"/>
<path d="M124.8 500.0 L136.7 497.4 L150.3 493.2 L160.5 491.5 L169.0 486.4 L167.3 477.9 L162.2 469.4 L159.0 465.0"/>
<path d="M158.8 492.3 L163.9 500.0 L177.5 506.8 L189.4 515.3 L198.7 523.7"/>
<path d="M228.4 471.4 L247.5 471.1 L269.5 472.8 L292.5 472.8 L300.1 481.3 L301.8 488.1 L313.7 488.1 L327.3 481.3 L340.9 478.7 L351.1 474.5 L362.5 471.1"/>
<path d="M300.1 481.3 L296.7 491.5 L295.0 501.7 L286.5 501.7 L279.4 506.4 L269.5 506.8 L261.1 511.0"/>
<path d="M301.8 488.1 L300.1 498.3 L295.0 505.1 L293.3 515.3 L295.0 523.7 L284.8 525.4 L276.3 530.5 L276.3 537.3"/>
<path d="M313.7 488.1 L310.3 500.0 L314.2 506.8 L322.2 505.4 L331.5 511.4 L334.1 518.7 L339.2 520.4 L337.5 525.4 L342.6 530.5 L344.3 533.1"/>
<path d="M331.5 511.4 L346.0 510.2 L357.9 508.5 L362.5 501.7"/>
<path d="M327.3 481.3 L340.9 488.1 L352.8 484.7 L362.5 479.6"/>
<path d="M228.4 471.4 L225.4 483.0 L230.5 489.8 L235.6 483.0 L233.9 474.5"/>
<path d="M242.4 476.2 L241.5 488.1 L247.5 500.0 L254.3 510.2 L261.1 517.0 L261.1 522.1 L250.9 530.5 L244.1 537.3 L246.6 546.2"/>
<path d="M241.5 488.1 L230.5 496.6 L223.7 508.5 L218.6 517.0 L223.7 525.4 L233.9 533.9 L244.1 537.3"/>
<path d="M198.7 524.0 L205.0 525.4 L218.6 517.0"/>
<path d="M246.6 546.2 L259.4 547.5 L256.0 554.3 L245.8 559.4 L244.9 569.0"/>
<path d="M259.4 547.5 L272.9 547.5 L284.8 550.9 L291.6 557.7 L286.5 564.5 L284.0 569.0"/>
<path d="M205.0 471.1 L215.2 472.8 L228.4 471.4"/>
<path d="M233.9 466.0 L239.0 472.8 L252.6 483.0 L255.8 492.3"/>
<path d="M245.8 466.0 L247.5 476.2 L256.0 486.4"/>
<path d="M209.3 450.5 L216.0 456.0 L222.0 462.0 L228.4 471.4"/>
<path d="M216.0 456.0 L227.0 462.0 L236.0 462.3 L240.0 462.0 L252.0 461.5 L262.0 464.0 L269.5 466.0"/>
<path d="M222.0 462.0 L224.0 470.0 L228.0 478.0"/>
<path d="M236.0 462.3 L238.0 455.0 L239.0 448.6"/>
<path d="M252.0 461.5 L254.0 453.0 L256.0 446.0"/>
<path d="M240.0 462.0 L243.0 470.0 L247.5 476.2"/>
<path d="M205.0 447.0 L212.0 452.0 L216.0 456.0"/>
<path d="M200.0 458.0 L205.0 462.0 L212.0 468.0 L215.2 472.8"/>
<path d="M200.0 476.0 L208.0 478.0 L215.0 484.0 L225.4 483.0"/>
</g>
<g fill="none" stroke="#fff" stroke-width="1.2" stroke-linejoin="round" stroke-linecap="round">
<path d="M45.5 477.5 L46.7 477.0 L58.6 472.8 L72.2 471.1 L82.4 468.5 L94.3 466.8 L104.4 468.5 L116.3 471.9 L126.5 473.6 L136.7 469.4 L146.9 466.0 L163.9 462.2 L172.4 457.1 L180.0 450.3 L186.0 449.5 L194.5 452.9 L205.0 456.3 L215.2 449.5 L225.4 451.2 L239.0 450.3 L250.9 445.2 L261.0 436.7 L264.4 426.5 L268.7 415.5 L260.2 401.0 L259.4 392.6 L247.5 379.0 L237.3 365.4 L236.5 364.0"/>
<path d="M298.0 364.0 L298.1 365.4 L299.3 372.2 L303.5 390.9 L310.3 398.5 L322.2 406.2 L330.7 419.7 L330.7 433.3 L333.2 443.5 L327.3 450.3 L315.4 458.0 L300.1 453.7 L284.8 458.8 L269.5 466.0 L266.1 476.2 L259.4 484.7 L262.7 488.9 L269.5 491.5 L271.2 495.7 L264.4 503.4 L259.4 511.9 L249.2 520.4 L240.7 527.1 L236.4 535.6 L237.3 543.3 L244.1 543.3 L250.9 540.7 L259.4 542.4 L269.5 538.2 L277.2 537.3 L279.7 545.8 L284.8 552.6 L293.3 555.2 L295.9 562.8 L297.6 569.0"/>
<path d="M298.4 369.6 L362.5 398.7"/>
<path d="M196.7 364.0 L196.2 392.6 L193.6 413.0 L191.9 430.0 L182.6 438.4 L180.0 450.3" stroke-width="0.8" stroke-dasharray="3 0.6"/>
</g>
<g fill="#0026e4" stroke="#0a1c9a" stroke-width="0.5">
<rect x="49.0" y="389.5" width="6.0" height="6.0"/>
<rect x="73.0" y="403.0" width="6.0" height="6.0"/>
<rect x="181.0" y="366.0" width="6.0" height="6.0"/>
<rect x="133.0" y="410.0" width="6.0" height="6.0"/>
<rect x="141.0" y="418.0" width="6.0" height="6.0"/>
<rect x="144.5" y="431.5" width="6.0" height="6.0"/>
<rect x="172.0" y="423.5" width="6.0" height="6.0"/>
<rect x="95.0" y="439.5" width="6.0" height="6.0"/>
<rect x="213.8" y="429.8" width="6.0" height="6.0"/>
<rect x="206.3" y="447.5" width="6.0" height="6.0"/>
<rect x="252.5" y="431.4" width="6.0" height="6.0"/>
<rect x="263.2" y="436.6" width="6.0" height="6.0"/>
<rect x="284.5" y="419.5" width="6.0" height="6.0"/>
<rect x="289.2" y="434.5" width="6.0" height="6.0"/>
<rect x="69.0" y="472.0" width="6.0" height="6.0"/>
<rect x="156.0" y="462.0" width="6.0" height="6.0"/>
<rect x="137.0" y="493.0" width="6.0" height="6.0"/>
<rect x="197.0" y="473.0" width="6.0" height="6.0"/>
<rect x="195.5" y="521.0" width="6.0" height="6.0"/>
<rect x="243.0" y="543.0" width="6.0" height="6.0"/>
<rect x="252.5" y="489.0" width="6.0" height="6.0"/>
<rect x="225.0" y="468.0" width="6.0" height="6.0"/>
<rect x="224.0" y="459.0" width="6.0" height="6.0"/>
<rect x="233.0" y="459.3" width="6.0" height="6.0"/>
<rect x="237.0" y="459.0" width="6.0" height="6.0"/>
<rect x="249.0" y="458.5" width="6.0" height="6.0"/>
<rect x="276.0" y="503.0" width="6.0" height="6.0"/>
<rect x="289.5" y="469.0" width="6.0" height="6.0"/>
<rect x="311.0" y="496.0" width="6.0" height="6.0"/>
<rect x="319.0" y="502.0" width="6.0" height="6.0"/>
<rect x="328.5" y="508.0" width="6.0" height="6.0"/>
<rect x="341.0" y="530.0" width="6.0" height="6.0"/>
</g>
<g class="lab">
<text x="63.5" y="391.0" textLength="47.0" lengthAdjust="spacingAndGlyphs">S Ramón</text>
<text x="160.0" y="413.0" textLength="40.5" lengthAdjust="spacingAndGlyphs">Alajuela</text>
<text x="235.5" y="458.3" textLength="47.0" lengthAdjust="spacingAndGlyphs">San José</text>
<text x="125.0" y="508.0" textLength="46.0" lengthAdjust="spacingAndGlyphs">Santiago</text>
<text x="191.5" y="541.5" textLength="35.5" lengthAdjust="spacingAndGlyphs">Acosta</text>
<text x="317.5" y="505.0" textLength="41.0" lengthAdjust="spacingAndGlyphs">Cartago</text>
</g>
</g>
<rect x="45.5" y="363.7" width="317" height="205.3" fill="none" stroke="#000" stroke-width="1.4"/>
</g>
<g clip-path="url(#ce)">
<rect x="527" y="7.5" width="127.5" height="122" fill="#add8e6"/>
<path d="M527.0 7.5 L528.2 11.3 L532.0 17.0 L536.6 22.8 L541.0 27.0 L545.0 31.2 L549.0 35.0 L553.3 38.5 L557.5 40.6 L554.0 43.0 L551.2 45.8 L555.0 46.5 L557.5 49.0 L555.0 52.0 L553.3 56.3 L554.0 60.0 L555.4 62.6 L558.0 66.0 L561.7 68.9 L565.0 72.0 L569.0 74.1 L572.0 70.0 L574.2 66.8 L571.0 64.5 L569.0 63.6 L567.0 61.5 L565.8 59.4 L570.0 62.0 L574.2 64.7 L576.5 67.0 L578.4 70.9 L581.0 74.5 L584.7 77.2 L590.0 80.0 L595.1 82.5 L599.0 85.0 L601.4 87.7 L600.0 91.0 L599.3 94.0 L602.0 96.5 L604.5 98.1 L607.0 97.5 L608.7 96.0 L607.0 93.5 L605.6 91.9 L608.0 92.5 L609.8 94.0 L611.5 96.5 L612.9 99.2 L615.0 103.0 L617.1 106.5 L617.6 103.0 L618.1 100.2 L624.4 100.7 L632.8 101.3 L637.0 102.5 L641.2 104.4 L644.0 107.0 L645.3 109.6 L643.0 113.5 L641.2 117.0 L639.1 121.2 L640.5 123.5 L642.2 124.3 L644.3 120.1 L643.2 115.9 L646.0 114.0 L649.5 112.8 L652.0 115.0 L654.5 118.0 L654.5 89.8 L646.4 89.8 L643.5 87.0 L641.2 84.5 L638.0 82.0 L634.9 79.3 L631.5 77.5 L628.6 76.2 L622.3 73.0 L619.0 70.0 L616.0 66.8 L611.5 61.5 L607.7 56.3 L604.5 51.5 L601.4 46.9 L599.0 43.0 L597.2 39.6 L596.3 35.0 L596.2 31.2 L597.5 27.5 L599.3 23.9 L598.0 21.0 L597.2 18.6 L599.0 16.0 L600.4 13.4 L599.0 10.5 L598.3 7.5 Z" fill="#cccccc" stroke="#000" stroke-width="0.75" stroke-linejoin="round"/>
<path d="M553.3 20.7 L557.5 19 L562 21 L565.8 23.9 L570 27.5 L573.2 31.2 L575.5 35 L576.7 38.5 L575.3 42.7 L570 42 L563.7 40 L558.5 35.4 L554.3 29.1 L552.2 23.9Z" fill="#add8e6" stroke="#000" stroke-width="0.55" stroke-linejoin="round"/>
<path d="M559 30 l2 -0.5 l2 1.5 l-1.5 1 l-2 -0.5z" fill="#cccccc" stroke="#000" stroke-width="0.4"/>
<path d="M537.6 13.4 L540.5 11.5 L543.9 11.3 L546 14.5 L542.8 16.5 L547 17.6 L544.5 19 L541.8 18.6 L539 16Z" fill="#add8e6" stroke="#000" stroke-width="0.5" stroke-linejoin="round"/>
<path d="M557.5 40.6 L561.5 42 L565.8 41.7 L571 43.5 L576.3 41.7 L580.5 43 L584.7 44.8 L588 46.8 L591 47.9 L594.5 48.3 L597.2 47.9 L601.4 45.8" fill="none" stroke="#000" stroke-width="0.6" stroke-linejoin="round"/>
<path d="M620.2 72 L617.5 72.5 L616 75.1 L615.5 79 L616 82.5 L618.5 84 L619.2 86.6 L617 89.5 L616 91.9 L617.5 95 L617.1 98.1 L614 100.2 L615.5 103.5 L617.1 106.5" fill="none" stroke="#000" stroke-width="0.6" stroke-linejoin="round"/>
<path d="M627.6 77.2 L631 78.5 L634.9 81.4 L638 82.5 L640.1 84.5 L638 86.6 L634.5 86 L631.7 85.6 L629.5 84 L628.6 82.5 L627 80Z" fill="#add8e6" stroke="#000" stroke-width="0.5" stroke-linejoin="round"/>
<path d="M629.5 77 l2.5 0.3 l1 1.5 l-1.5 0.7z M633 79 l2 0.5 l0.5 1 l-1.5 0.2z M624 100 l1 3 l1.2 -0.5z" fill="#333" stroke="#000" stroke-width="0.4"/>
<path d="M627 112 h0.8 M631 105 h0.8 M634 106.5 h0.8 M637 107 h0.8 M601 55.5 h0.8 M573 54 v1 M606 15.5 v1.5 M636.5 114 h0.8" stroke="#000" stroke-width="0.7" fill="none"/>
<g stroke="#000" stroke-width="0.5" fill="none"><circle cx="591" cy="73.2" r="4.6"/><circle cx="591" cy="73.2" r="6.7"/><path d="M582.2 73.2H599.8M591 64.4V82"/></g>
<circle cx="591" cy="73.2" r="3" fill="#f00" stroke="#000" stroke-width="0.4"/>
</g>
<path d="M527 129.5V8.5H654.5" fill="none" stroke="#000" stroke-width="1.6"/>
<rect x="526.3" y="129" width="128.2" height="38" fill="#000"/>
<g class="b" fill="#fff"><text x="553.7" y="145" font-size="12.7" textLength="74.3" lengthAdjust="spacingAndGlyphs" style="fill:#fff">EPICENTRO</text><text x="533.3" y="162" font-size="12.7" textLength="115" lengthAdjust="spacingAndGlyphs" xml:space="preserve" style="fill:#fff">M=4.0    P= 44.2km</text></g>
<rect x="394.3" y="565.7" width="259" height="15.2" rx="2.4" fill="#fff" stroke="#333" stroke-width="0.5"/>
<text class="b" x="396.9" y="576.8" font-size="11.3" textLength="254" lengthAdjust="spacingAndGlyphs">Laboratorio de Ingeniería Sísmica (LIS−UCR)</text>
<g>
<rect x="26.0" y="2.3" width="634.0" height="5.2" fill="#fff" stroke="none"/>
<rect x="26.0" y="583.3" width="634.0" height="5.4" fill="#fff" stroke="none"/>
<rect x="26.0" y="2.3" width="5.5" height="586.4" fill="#fff" stroke="none"/>
<rect x="654.5" y="2.3" width="5.5" height="586.4" fill="#fff" stroke="none"/>
<rect x="48.5" y="2.3" width="173.0" height="5.2" fill="#000"/>
<rect x="48.5" y="583.3" width="173.0" height="5.4" fill="#000"/>
<rect x="394.6" y="2.3" width="173.1" height="5.2" fill="#000"/>
<rect x="394.6" y="583.3" width="173.1" height="5.4" fill="#000"/>
<rect x="26.0" y="60.0" width="5.5" height="174.9" fill="#000"/>
<rect x="654.5" y="60.0" width="5.5" height="174.9" fill="#000"/>
<rect x="26.0" y="409.4" width="5.5" height="173.9" fill="#000"/>
<rect x="654.5" y="409.4" width="5.5" height="173.9" fill="#000"/>
<g fill="none" stroke="#000" stroke-width="0.7">
<rect x="26.0" y="2.3" width="634.0" height="586.4"/>
<rect x="31.5" y="7.5" width="623.0" height="575.8"/>
<path d="M31.5 2.3V588.7M654.5 2.3V588.7M26.0 7.5H660.0M26.0 583.3H660.0"/>
</g></g>
<g class="ax">
<text x="49.0" y="603.2" text-anchor="middle">−86<tspan style="font-size:6px" dy="-5.5">°</tspan></text>
<text x="222.0" y="603.2" text-anchor="middle">−85<tspan style="font-size:6px" dy="-5.5">°</tspan></text>
<text x="395.1" y="603.2" text-anchor="middle">−84<tspan style="font-size:6px" dy="-5.5">°</tspan></text>
<text x="568.2" y="603.2" text-anchor="middle">−83<tspan style="font-size:6px" dy="-5.5">°</tspan></text>
<text x="20.8" y="65.3" text-anchor="end">11<tspan style="font-size:6px" dy="-5.5">°</tspan></text>
<text x="20.8" y="240.2" text-anchor="end">10<tspan style="font-size:6px" dy="-5.5">°</tspan></text>
<text x="20.8" y="414.7" text-anchor="end">9<tspan style="font-size:6px" dy="-5.5">°</tspan></text>
<text x="20.8" y="588.6" text-anchor="end">8<tspan style="font-size:6px" dy="-5.5">°</tspan></text>
</g>
<rect x="669.6" y="520.29" width="15.2" height="63.01" fill="#0024e0"/>
<rect x="669.6" y="457.28" width="15.2" height="63.31" fill="#009eb0"/>
<rect x="669.6" y="394.27" width="15.2" height="63.31" fill="#2ee854"/>
<rect x="669.6" y="331.26" width="15.2" height="63.31" fill="#a6ff26"/>
<rect x="669.6" y="268.24" width="15.2" height="63.31" fill="#ffff00"/>
<rect x="669.6" y="205.23" width="15.2" height="63.31" fill="#ffd000"/>
<rect x="669.6" y="142.22" width="15.2" height="63.31" fill="#ff8200"/>
<rect x="669.6" y="79.21" width="15.2" height="63.31" fill="#ff3200"/>
<rect x="669.6" y="16.20" width="15.2" height="63.31" fill="#d70000"/>
<rect x="669.6" y="16.2" width="15.2" height="567.1" fill="none" stroke="#000" stroke-width="1"/>
<path d="M684.8 583.30H689.8M684.8 551.79H686.8M684.8 520.29H689.8M684.8 488.78H686.8M684.8 457.28H689.8M684.8 425.77H686.8M684.8 394.27H689.8M684.8 362.76H686.8M684.8 331.26H689.8M684.8 299.75H686.8M684.8 268.24H689.8M684.8 236.74H686.8M684.8 205.23H689.8M684.8 173.73H686.8M684.8 142.22H689.8M684.8 110.72H686.8M684.8 79.21H689.8M684.8 47.71H686.8M684.8 16.20H689.8" stroke="#000" stroke-width="0.8" fill="none"/>
<g class="ax">
<text x="714" y="587.6" text-anchor="end" style="font-size:11.6px">0</text>
<text x="714" y="524.6" text-anchor="end" style="font-size:11.6px">20</text>
<text x="714" y="461.6" text-anchor="end" style="font-size:11.6px">40</text>
<text x="714" y="398.6" text-anchor="end" style="font-size:11.6px">60</text>
<text x="714" y="335.6" text-anchor="end" style="font-size:11.6px">80</text>
<text x="714" y="272.5" text-anchor="end" style="font-size:11.6px">100</text>
<text x="714" y="209.5" text-anchor="end" style="font-size:11.6px">120</text>
<text x="714" y="146.5" text-anchor="end" style="font-size:11.6px">140</text>
<text x="714" y="83.5" text-anchor="end" style="font-size:11.6px">160</text>
<text x="714" y="20.5" text-anchor="end" style="font-size:11.6px">180</text>
<text transform="translate(734.6 299.5) rotate(-90)" text-anchor="middle" style="font-size:16.05px">Duración en segundos</text>
</g>
<text x="876" y="48" text-anchor="middle" font-size="15.9" textLength="201.6" lengthAdjust="spacingAndGlyphs">Lugares con mayor duración</text>
<rect x="750" y="59.2" width="252.5" height="503" fill="#fff" stroke="#000" stroke-width="1.3"/>
<g class="tb">
<g class="hd"><text x="758.6" y="76">Dur(s)</text><text x="799.4" y="76">Est</text><text x="876.7" y="76">Lugar</text></g>
<text x="787.4" y="99.1" text-anchor="end">10.6</text><text x="796.5" y="99.1">SIAC</text><text x="838" y="99.1">Cruz Roja Acosta</text>
<text x="787.4" y="114.2" text-anchor="end">8.8</text><text x="796.5" y="114.2">PQUE</text><text x="838" y="114.2">Bomberos Quepos</text>
<text x="787.4" y="129.3" text-anchor="end">7.3</text><text x="796.5" y="129.3">STCH</text><text x="838" y="129.3">Clin. Turrubares</text>
<text x="787.4" y="144.4" text-anchor="end">7.2</text><text x="796.5" y="144.4">SBEB</text><text x="838" y="144.4">Esc. Bebedero, Escazú</text>
<text x="787.4" y="159.5" text-anchor="end">6.9</text><text x="796.5" y="159.5">CPAR</text><text x="838" y="159.5">Paraíso UCR</text>
<text x="787.4" y="174.6" text-anchor="end">6.2</text><text x="796.5" y="174.6">PQSH</text><text x="838" y="174.6">Hosp. Quepos</text>
<text x="787.4" y="189.7" text-anchor="end">6.0</text><text x="796.5" y="189.7">AGRE</text><text x="838" y="189.7">Grecia UCR</text>
<text x="787.4" y="204.8" text-anchor="end">5.8</text><text x="796.5" y="204.8">SPCH</text><text x="838" y="204.8">CAIS Puriscal</text>
<text x="787.4" y="219.9" text-anchor="end">5.4</text><text x="796.5" y="219.9">SUN7</text><text x="838" y="219.9">UCR−Archivo</text>
<text x="787.4" y="235.0" text-anchor="end">5.3</text><text x="796.5" y="235.0">ACOY</text><text x="838" y="235.0">El Coyol, Alajuela</text>
<text x="787.4" y="250.1" text-anchor="end">5.3</text><text x="796.5" y="250.1">SFRA</text><text x="838" y="250.1">Esc. Frailes</text>
<text x="787.4" y="265.2" text-anchor="end">4.8</text><text x="796.5" y="265.2">SUNL</text><text x="838" y="265.2">UCR−LANAMME−CTT</text>
<text x="787.4" y="280.3" text-anchor="end">4.7</text><text x="796.5" y="280.3">ALCA</text><text x="838" y="280.3">Lic. Carrillos, Alajuela</text>
<text x="787.4" y="295.4" text-anchor="end">4.7</text><text x="796.5" y="295.4">SGTS</text><text x="838" y="295.4">Esc. Guatuso, Patarrá</text>
<text x="787.4" y="310.5" text-anchor="end">4.6</text><text x="796.5" y="310.5">SCNE</text><text x="838" y="310.5">Com. Nal. Emerg, Pavas</text>
<text x="787.4" y="325.6" text-anchor="end">4.6</text><text x="796.5" y="325.6">CTOB</text><text x="838" y="325.6">Esc. Tobosi</text>
<text x="787.4" y="340.7" text-anchor="end">4.4</text><text x="796.5" y="340.7">SHTH</text><text x="838" y="340.7">Clin Hatillo</text>
<text x="787.4" y="355.8" text-anchor="end">4.2</text><text x="796.5" y="355.8">BJL0</text><text x="838" y="355.8">Jn Lankester N00 UCR</text>
<text x="787.4" y="370.9" text-anchor="end">4.2</text><text x="796.5" y="370.9">SCOH</text><text x="838" y="370.9">Ebais Cd Colón</text>
<text x="787.4" y="386.0" text-anchor="end">3.8</text><text x="796.5" y="386.0">SION</text><text x="838" y="386.0">Cuesta Moras, San José</text>
<text x="787.4" y="401.1" text-anchor="end">3.8</text><text x="796.5" y="401.1">PEZE</text><text x="838" y="401.1">OV−S Isidro,UNA</text>
<text x="787.4" y="416.2" text-anchor="end">3.6</text><text x="796.5" y="416.2">CTEC</text><text x="838" y="416.2">Inst. Tecnológico</text>
<text x="787.4" y="431.3" text-anchor="end">3.5</text><text x="796.5" y="431.3">BFR0</text><text x="838" y="431.3">Fraijanes N00 UCR</text>
<text x="787.4" y="446.4" text-anchor="end">3.5</text><text x="796.5" y="446.4">CAVM</text><text x="838" y="446.4">F. Alfredo Volio UCR</text>
<text x="787.4" y="461.5" text-anchor="end">3.4</text><text x="796.5" y="461.5">ASRM</text><text x="838" y="461.5">San Ramón UCR</text>
<text x="787.4" y="476.6" text-anchor="end">3.4</text><text x="796.5" y="476.6">SSBN</text><text x="838" y="476.6">ICODER La Sabana</text>
<text x="787.4" y="491.7" text-anchor="end">3.3</text><text x="796.5" y="491.7">CORS</text><text x="838" y="491.7">CTP Orosi</text>
<text x="787.4" y="506.8" text-anchor="end">3.2</text><text x="796.5" y="506.8">AATN</text><text x="838" y="506.8">Bibl. Atenas</text>
<text x="787.4" y="521.9" text-anchor="end">2.9</text><text x="796.5" y="521.9">SPCL</text><text x="838" y="521.9">Bomberos Puriscal</text>
<text x="787.4" y="537.0" text-anchor="end">2.8</text><text x="796.5" y="537.0">AORT</text><text x="838" y="537.0">Cruz Roja, Orotina</text>
<text x="787.4" y="552.1" text-anchor="end">2.7</text><text x="796.5" y="552.1">HCPD</text><text x="838" y="552.1">San Miguel, S. Domingo</text>
</g>
</svg></body></html>
